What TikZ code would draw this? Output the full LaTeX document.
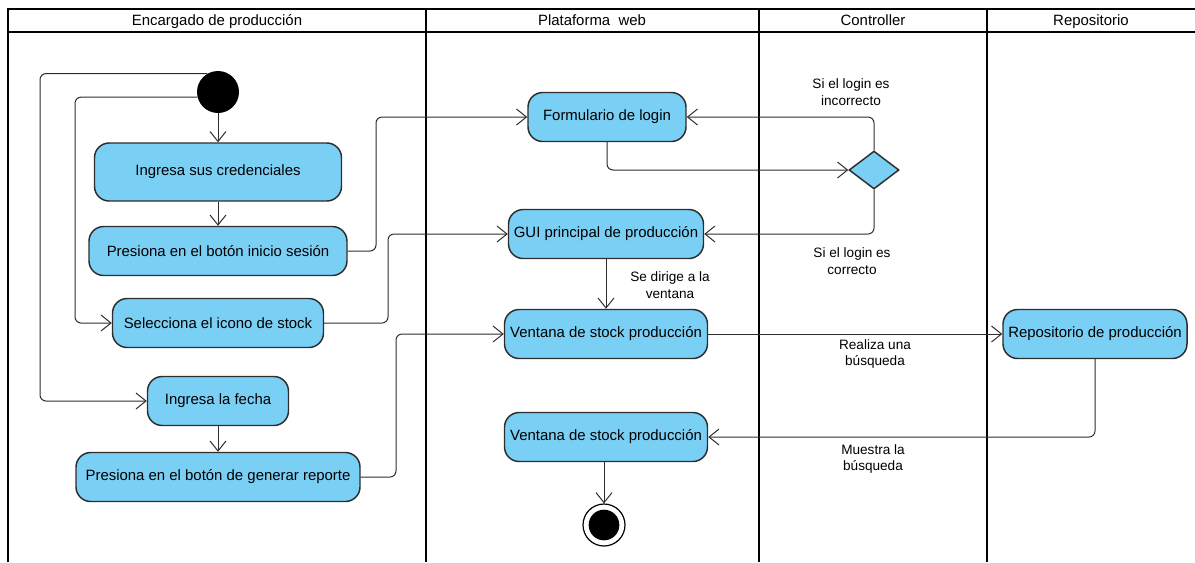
\documentclass[tikz,border=0pt]{standalone}
\usepackage{fontspec}
\setmainfont{Liberation Sans}
\usetikzlibrary{arrows.meta,shapes.geometric}
\definecolor{actfill}{RGB}{122,207,245}
\definecolor{actline}{RGB}{45,45,45}
\begin{document}
\begin{tikzpicture}[x=0.75pt,y=-0.75pt,
  lane/.style={line width=1.5pt,black},
  act/.style={draw=actline,fill=actfill,line width=1.1pt,rounded corners=11pt,
    inner sep=0pt,align=center,font=\fontsize{11.2pt}{13pt}\selectfont},
  flow/.style={draw=actline,line width=0.75pt,rounded corners=4.5pt,
    -{Straight Barb[length=7.5pt,width=12pt,line width=0.75pt]}},
  guard/.style={align=center,font=\fontsize{10.2pt}{12.5pt}\selectfont,inner sep=0pt},
  head/.style={font=\fontsize{11.2pt}{13pt}\selectfont,inner sep=0pt,anchor=base}]
\useasboundingbox (0,0) rectangle (1195,562);

% swimlane frame
\draw[lane] (8,562) -- (8,9) -- (1195,9);
\draw[lane] (8,32) -- (1195,32);
\draw[lane] (426,9) -- (426,562);
\draw[lane] (759,9) -- (759,562);
\draw[lane] (987,9) -- (987,562);
\node[head] (h1) at (217,25) {Encargado de producción};
\node[head] (h2) at (592,25) {Plataforma\ \ web};
\node[head] (h3) at (873,25) {Controller};
\node[head] (h4) at (1091,25) {Repositorio};

% initial and final states
\node[circle,fill=black,minimum size=42*0.75pt,inner sep=0pt] (start) at (218,92) {};
\node[circle,draw=black,line width=0.9pt,fill=white,minimum size=42*0.75pt,inner sep=0pt] (end) at (604,525) {};
\fill[black] (end.center) circle (11.5pt);

% activities
\node[act,minimum width=247*0.75pt,minimum height=58*0.75pt] (cred) at (218,172) {Ingresa sus credenciales};
\node[act,minimum width=258*0.75pt,minimum height=49*0.75pt] (inicio) at (218,251) {Presiona en el botón inicio sesión};
\node[act,minimum width=211*0.75pt,minimum height=49*0.75pt] (sel) at (218,323) {Selecciona el icono de stock};
\node[act,minimum width=141*0.75pt,minimum height=49*0.75pt] (fecha) at (218,401) {Ingresa la fecha};
\node[act,minimum width=284*0.75pt,minimum height=49*0.75pt] (rep) at (218,477) {Presiona en el botón de generar reporte};
\node[act,minimum width=158*0.75pt,minimum height=49*0.75pt] (form) at (607,117) {Formulario de login};
\node[act,minimum width=195*0.75pt,minimum height=49*0.75pt] (gui) at (606,234) {GUI principal de producción};
\node[act,minimum width=203*0.75pt,minimum height=49*0.75pt] (v1) at (606,334) {Ventana de stock producción};
\node[act,minimum width=203*0.75pt,minimum height=49*0.75pt] (v2) at (606,437) {Ventana de stock producción};
\node[act,minimum width=184*0.75pt,minimum height=49*0.75pt] (repo) at (1095,334) {Repositorio de producción};
\node[diamond,draw=actline,fill=actfill,line width=1.1pt,minimum width=50*0.75pt,minimum height=38*0.75pt,inner sep=0pt] (dia) at (874,170) {};

% control flows
\draw[flow] (start) -- (cred);
\draw[flow] (start.194) -| (75,323) -- (sel.west);
\draw[flow] (start.120) -| (40,401) -- (fecha.west);
\draw[flow] (cred) -- (inicio);
\draw[flow] (inicio.east) -| (376,117) -- (form.west);
\draw[flow] (sel.east) -| (388,234) -- (gui.west);
\draw[flow] (fecha) -- (rep);
\draw[flow] (rep.east) -| (396,334) -- (v1.west);
\draw[flow] (form.south) |- (dia.west);
\draw[flow] (dia.north) |- (form.east);
\draw[flow] (dia.south) |- (gui.east);
\draw[flow] (gui) -- (v1);
\draw[flow] (v1) -- (repo);
\draw[flow] (repo.south) |- (v2.east);
\draw[flow] (end |- v2.south) -- (end.north);

% guards and labels
\node[guard] (g1) at (851,92) {Si el login es\\incorrecto};
\node[guard] (g2) at (852,261) {Si el login es\\correcto};
\node[guard] (g3) at (670,285) {Se dirige a la\\ventana};
\node[guard] (g4) at (875,354) {Realiza una\\búsqueda};
\node[guard] (g5) at (873,459) {Muestra la\\búsqueda};
\end{tikzpicture}
\end{document}
